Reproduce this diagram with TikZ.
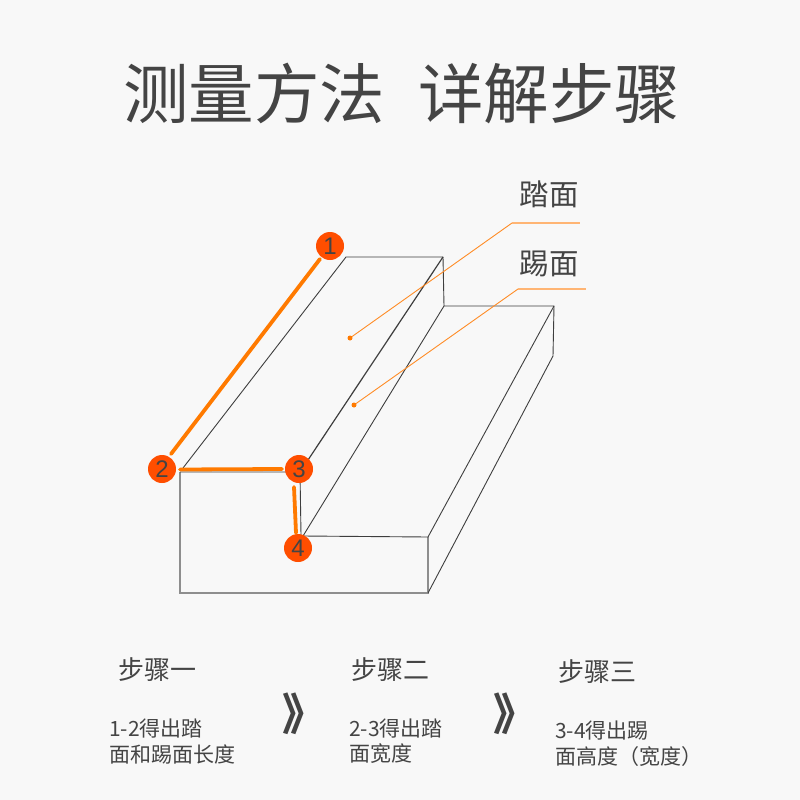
\documentclass[tikz,border=0pt]{standalone}
\usepackage{fontspec}
\setmainfont{Noto Sans CJK SC}
\newfontfamily\numfont{Liberation Sans}
\definecolor{bgc}{HTML}{F8F8F8}
\definecolor{ink}{HTML}{444444}
\definecolor{edge}{HTML}{3E3E3E}
\definecolor{edgeg}{HTML}{8E8E8E}
\definecolor{hl}{HTML}{FF7A00}
\definecolor{badge}{HTML}{FF4E00}
\definecolor{lead}{HTML}{FF8C26}
\definecolor{leadh}{HTML}{FFB574}
\tikzset{
  title/.style={text=ink,inner sep=0pt,font=\fontsize{65.5}{66}\selectfont},
  tag/.style={text=ink,inner sep=0pt,font=\fontsize{29.5}{30}\selectfont},
  stephead/.style={text=ink,inner sep=0pt,anchor=west,font=\fontsize{26}{26}\selectfont},
  stepbody/.style={text=ink,inner sep=0pt,anchor=west,font=\fontsize{21}{21}\selectfont},
  chev/.style={text=ink,inner sep=0pt,font=\bfseries\fontsize{44}{44}\selectfont},
  badgec/.style={circle,fill=badge,minimum size=28pt,inner sep=0pt,text=ink,font=\numfont\fontsize{24}{24}\selectfont},
  thin edge/.style={draw=edge,line width=0.9pt,line join=miter},
  grey edge/.style={draw=edgeg,line width=1.2pt,line join=miter},
  hlline/.style={draw=hl,line width=3.8pt,line cap=round},
  leader/.style={draw=lead,line width=0.9pt},
  leaderh/.style={draw=leadh,line width=1.3pt},
  leaddot/.style={circle,fill=hl,minimum size=5pt,inner sep=0pt}
}
\begin{document}
\begin{tikzpicture}[x=1pt,y=-1pt]
\useasboundingbox (0,0) rectangle (800,800);
\fill[bgc] (0,0) rectangle (800,800);
% title
\node[title,anchor=west] (t1) at (123,93.5) {测量方法};
\node[title,anchor=west] (t2) at (418,93.5) {详解步骤};
% corner points
\coordinate (fl) at (180,472);
\coordinate (flb) at (180,593);
\coordinate (frb) at (428,593);
\coordinate (frt) at (428,537);
\coordinate (tl) at (346,257);
\coordinate (tr) at (443,257);
\coordinate (mid) at (444,306);
\coordinate (rr) at (554,306);
\coordinate (rb) at (553,356);
\coordinate (c3) at (300,472);
\coordinate (c4) at (303,536);
\coordinate (c4b) at (301,535);
\coordinate (flt) at (183,468);
% grey front
\draw[grey edge] (fl) -- (flb) -- (frb) -- (frt);
% edges
\draw[thin edge] (fl) -- (c3) -- (c4b);
\draw[thin edge] (flt) -- (tl) -- (tr);
\draw[thin edge,line width=1.2pt] (tr) -- (c3);
\draw[thin edge] (tr) -- (mid) -- (rr) -- (rb) -- (frb);
\draw[thin edge] (mid) -- (c4) -- (frt) -- (rr);
% badges
\node[badgec] (n1) at (330,246) {1};
\node[badgec] (n2) at (162,469) {2};
\node[badgec] (n3) at (299,469) {3};
\node[badgec] (n4) at (298,548) {4};
% highlights
\draw[hlline] (n1) ++(-10,13) coordinate (a1) -- (171,454) coordinate (a2);
\draw[hlline] (180,469.5) coordinate (b1) -- (282,469) coordinate (b2);
\draw[hlline] (294,487) coordinate (d1) -- (296,533) coordinate (d2);
% leaders
\node[leaddot] (p1) at (350,338) {};
\node[leaddot] (p2) at (354,405) {};
\coordinate (e1) at (512,223);
\coordinate (f1) at (580,223);
\coordinate (e2) at (518,289);
\coordinate (f2) at (586,289);
\draw[leader] (p1) -- (e1);
\draw[leaderh] (e1) -- (f1);
\draw[leader] (p2) -- (e2);
\draw[leaderh] (e2) -- (f2);
\node[tag,anchor=west] (l1) at (519.5,194) {踏面};
\node[tag,anchor=west] (l2) at (519.5,264) {踢面};
% steps
\node[stephead] (s1) at (118,670) {步骤一};
\node[stephead] (s2) at (351,670) {步骤二};
\node[stephead] (s3) at (558,672) {步骤三};
\node[stepbody] (b11) at (109,729) {1-2得出踏};
\node[stepbody] (b12) at (109,754) {面和踢面长度};
\node[stepbody] (b21) at (349,729) {2-3得出踏};
\node[stepbody] (b22) at (349,754) {面宽度};
\node[stepbody] (b31) at (555,731) {3-4得出踢};
\node[stepbody] (b32) at (555,757) {面高度（宽度）};
\node[chev] (c1) at (304,714) {》};
\node[chev] (c2) at (515,714) {》};
\end{tikzpicture}
\end{document}
